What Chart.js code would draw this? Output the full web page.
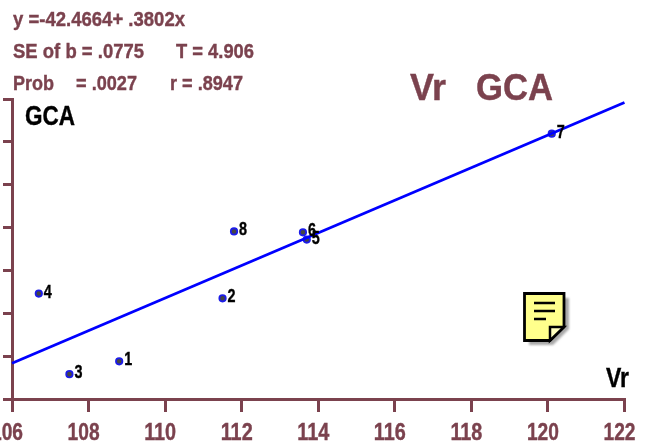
<!DOCTYPE html>
<html>
<head>
<meta charset="utf-8">
<style>
  html, body { margin: 0; padding: 0; background: #fff; overflow: hidden; }
  #wrap { position: relative; width: 650px; height: 442px; }
  #myChart { display: block; }
  #note { position: absolute; left: 522px; top: 291px; }
</style>
<script src="https://cdn.jsdelivr.net/npm/chart.js@4/dist/chart.umd.min.js"></script>
</head>
<body>
<div id="wrap">
  <canvas id="myChart" width="650" height="442"></canvas>
  <svg id="note" width="50" height="56" viewBox="0 0 50 56">
    <defs><filter id="soft"><feGaussianBlur stdDeviation="1"/></filter></defs>
    <path d="M7 7 H47 V38 L31 54 H7 Z" fill="#a8a8a8" filter="url(#soft)"/>
    <path d="M2.5 2.5 H42 V36 L28 49.5 H2.5 Z" fill="#ffff8c" stroke="#000" stroke-width="2.8"/>
    <path d="M28 49.5 V36 H42 Z" fill="#ffffc0" stroke="#000" stroke-width="2.5"/>
    <path d="M12 12 H33 M12 20 H33 M12 28 H24" stroke="#000" stroke-width="2.5"/>
  </svg>
</div>
<script>
// punkty
const pointIds = ['1', '2', '3', '4', '5', '6', '7', '8'];
const vr = [108.8, 111.5, 107.5, 106.7, 113.7, 113.6, 120.1, 111.8];
const gca = [-2.12, -0.65, -2.42, -0.54, 0.72, 0.89, 3.19, 0.91];
// linia regresji
const lineX = [106, 122];
const lineY = [-2.165, 3.918];
const xTicks = [106, 108, 110, 112, 114, 116, 118, 120, 122];
const yTicks = [-3, -2, -1, 0, 1, 2, 3, 4];

const axisColor = '#7b424e';
const fontName = '"Liberation Sans", sans-serif';

// napisy: tekst, x, y, font, kolor, max szerokosc (fillText sam zweza tekst)
const labels = [
    ['y =-42.4664+ .3802x', 13, 26, 'bold 21px', axisColor, 172],
    ['SE of b = .0775', 13, 58, 'bold 21px', axisColor, 131],
    ['T = 4.906', 176, 58, 'bold 21px', axisColor, 78],
    ['Prob', 13, 90, 'bold 21px', axisColor, 41],
    ['= .0027', 76, 90, 'bold 21px', axisColor, 61],
    ['r = .8947', 170, 90, 'bold 21px', axisColor, 73],
    ['Vr', 410, 100, 'bold 37px', axisColor, 36],
    ['GCA', 476, 100, 'bold 37px', axisColor, 77],
    ['GCA', 25, 125, 'bold 27px', '#000', 50],
    ['Vr', 606, 387, 'bold 27px', '#000', 23]
];

// tekst z cienkim obrysem, bo oryginal jest grubszy
function heavyText(ctx, text, x, y, maxWidth) {
    ctx.lineWidth = 0.4;
    ctx.strokeStyle = ctx.fillStyle;
    ctx.fillText(text, x, y, maxWidth);
    ctx.strokeText(text, x, y, maxWidth);
}

const textPlugin = {
    id: 'textPlugin',
    afterDraw(chart) {
        const ctx = chart.ctx;
        ctx.save();
        ctx.textBaseline = 'alphabetic';
        ctx.textAlign = 'left';
        labels.forEach(l => {
            ctx.font = l[3] + ' ' + fontName;
            ctx.fillStyle = l[4];
            heavyText(ctx, l[0], l[1], l[2], l[5]);
        });
        // numery punktow
        ctx.font = 'bold 19px ' + fontName;
        ctx.fillStyle = '#000';
        chart.getDatasetMeta(1).data.forEach((el, i) => {
            heavyText(ctx, pointIds[i], el.x + 5, el.y + 4, 8);
        });
        // opisy osi x (lekko w lewo od kreski, tak jak w oryginale)
        ctx.font = 'bold 24px ' + fontName;
        ctx.fillStyle = axisColor;
        ctx.textAlign = 'center';
        xTicks.forEach(v => {
            heavyText(ctx, String(v), chart.scales.x.getPixelForValue(v) - 5, 440, 32);
        });
        ctx.restore();
    }
};

new Chart(document.getElementById('myChart').getContext('2d'), {
    type: 'scatter',
    data: {
        datasets: [{
            type: 'line',
            data: lineX.map((x, i) => ({ x: x, y: lineY[i] })),
            borderColor: '#0000ff',
            borderWidth: 2.8,
            pointRadius: 0,
            clip: false
        }, {
            data: vr.map((x, i) => ({ x: x, y: gca[i] })),
            backgroundColor: '#444444',
            borderColor: '#1c1ce8',
            borderWidth: 1.8,
            pointRadius: 3.2
        }]
    },
    options: {
        responsive: false,
        animation: false,
        layout: { padding: { left: 0, right: 25.5, top: 99, bottom: 0 } },
        plugins: { legend: { display: false }, tooltip: { enabled: false } },
        scales: {
            x: {
                type: 'linear',
                min: 106,
                max: 122,
                afterBuildTicks(scale) { scale.ticks = xTicks.map(v => ({ value: v })); },
                afterFit(scale) { scale.height = 43; scale.paddingLeft = 0; scale.paddingRight = 0; },
                border: { color: axisColor, width: 3 },
                grid: { drawOnChartArea: false, color: axisColor, tickColor: axisColor, tickLength: 13, lineWidth: 3 },
                ticks: { display: false }
            },
            y: {
                type: 'linear',
                min: -3,
                max: 4,
                afterBuildTicks(scale) { scale.ticks = yTicks.map(v => ({ value: v })); },
                afterFit(scale) { scale.width = 12; scale.paddingTop = 0; scale.paddingBottom = 0; },
                border: { color: axisColor, width: 3 },
                grid: { drawOnChartArea: false, color: axisColor, tickColor: axisColor, tickLength: 9, lineWidth: 3 },
                ticks: { display: false }
            }
        }
    },
    plugins: [textPlugin]
});
</script>
</body>
</html>
